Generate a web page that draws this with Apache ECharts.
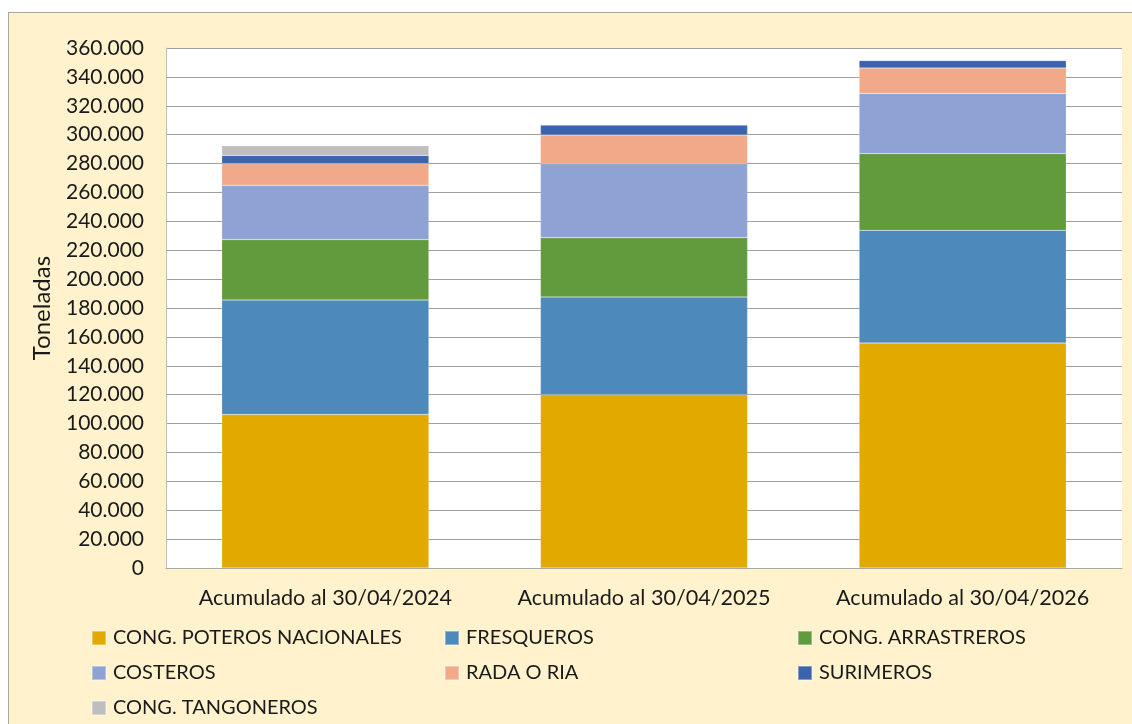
<!DOCTYPE html>
<html>
<head>
<meta charset="utf-8">
<script src="https://cdn.jsdelivr.net/npm/echarts@6/dist/echarts.min.js"></script>
<style>
html, body { margin:0; padding:0; background:#ffffff; width:1132px; height:724px; overflow:hidden; }
#frame { position:absolute; left:8px; top:12px; width:1130px; height:720px; background:#FFF2CC; border:1px solid #A6A6A6; box-sizing:border-box; }
#chart { position:absolute; left:0; top:0; width:1132px; height:724px; }
</style>
</head>
<body>
<div id="frame"></div>
<div id="chart"></div>
<script>
const categories = ['Acumulado al 30/04/2024', 'Acumulado al 30/04/2025', 'Acumulado al 30/04/2026'];
const poteros     = [106300, 120000, 155800];
const fresqueros  = [79200, 67600, 78000];
const arrastreros = [41800, 41100, 53100];
const costeros    = [37600, 51200, 41600];
const rada        = [15100, 19900, 17700];
const surimeros   = [5600, 6900, 5100];
const tangoneros  = [6700, 0, 0];

const seriesNames = ['CONG. POTEROS NACIONALES', 'FRESQUEROS', 'CONG. ARRASTREROS', 'COSTEROS', 'RADA O RIA', 'SURIMEROS', 'CONG. TANGONEROS'];
const seriesData = [poteros, fresqueros, arrastreros, costeros, rada, surimeros, tangoneros];
const colors = ['#E2AA00', '#4E89BB', '#629A3E', '#8FA2D4', '#F1A98A', '#3C64AC', '#BEBEBE'];

const FONT = 'Lato';
const legendPos = [
  {left: 91, top: 628}, {left: 444, top: 628}, {left: 797, top: 628},
  {left: 91, top: 663}, {left: 444, top: 663}, {left: 797, top: 663},
  {left: 91, top: 698}
];

const chart = echarts.init(document.getElementById('chart'), null, {renderer: 'canvas'});
chart.setOption({
  backgroundColor: 'transparent',
  animation: false,
  color: colors,
  grid: { left: 166, right: 10, top: 48, bottom: 156, show: true, backgroundColor: '#ffffff', borderWidth: 0 },
  legend: seriesNames.map((n, i) => ({
    data: [n], left: legendPos[i].left, top: legendPos[i].top,
    itemWidth: 14, itemHeight: 14, itemGap: 0, padding: 0,
    icon: 'rect',
    textStyle: { fontFamily: FONT, fontSize: 20, color: '#1a1a1a', padding: [0, 0, 0, 2] }
  })),
  xAxis: {
    type: 'category',
    data: categories,
    axisLine: { show: true, lineStyle: { color: '#A6A6A6', width: 1 } },
    axisTick: { show: false },
    axisLabel: { interval: 0, fontFamily: FONT, fontSize: 21.6, color: '#1a1a1a', margin: 19 }
  },
  yAxis: {
    type: 'value',
    min: 0, max: 360000, interval: 20000,
    name: 'Toneladas',
    nameLocation: 'middle',
    nameGap: 112,
    nameRotate: 90,
    nameTextStyle: { fontFamily: FONT, fontSize: 24, color: '#1a1a1a' },
    axisLine: { show: true, lineStyle: { color: '#BFBFBF', width: 1 } },
    axisTick: { show: false },
    splitLine: { show: true, lineStyle: { color: '#A0A0A0', width: 1 } },
    axisLabel: {
      fontFamily: FONT, fontSize: 21, color: '#1a1a1a', margin: 22,
      formatter: v => v === 0 ? '0' : (Math.round(v / 1000) + '.000')
    }
  },
  series: seriesNames.map((n, i) => ({
    name: n,
    type: 'bar',
    stack: 'total',
    data: seriesData[i],
    barCategoryGap: '35%',
    itemStyle: { color: colors[i], borderColor: 'rgba(255,255,255,0.35)', borderWidth: 0.5 }
  }))
});
</script>
</body>
</html>
